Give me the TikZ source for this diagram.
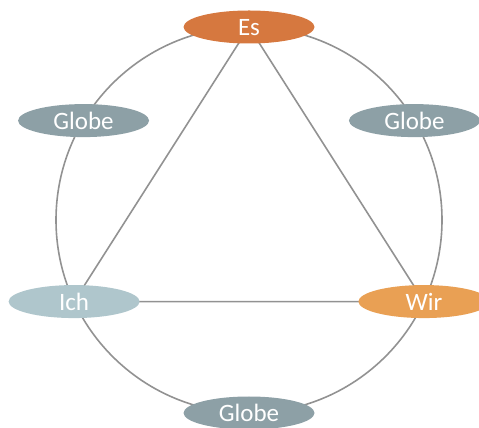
\documentclass[tikz,border=0pt]{standalone}
\usepackage{fontspec}
\setmainfont{Carlito}
\usetikzlibrary{shapes.geometric,calc}
\definecolor{esfill}{HTML}{D6783F}
\definecolor{wirfill}{HTML}{E9A054}
\definecolor{globefill}{HTML}{8DA0A6}
\definecolor{ichfill}{HTML}{AFC6CC}
\definecolor{linegray}{HTML}{929292}
\tikzset{
  blob/.style={ellipse, draw=none, inner sep=0pt, minimum width=131pt,
    minimum height=33pt, text=white, text height=17pt, text depth=0pt,
    font=\fontsize{25}{30}\selectfont},
  ring/.style={draw=linegray, line width=1.6pt},
  edge/.style={draw=linegray, line width=1.6pt}
}
\begin{document}
\begin{tikzpicture}[x=1pt,y=1pt]
  \useasboundingbox (0,0) rectangle (479,428);
  \coordinate (c) at (249,208);
  % outer ring
  \draw[ring] (c) circle (193);
  % node positions on the ring
  \coordinate (pEs) at ($(c)+(90:193)$);
  \coordinate (pGr) at ($(c)+(31:193)$);
  \coordinate (pWir) at ($(c)+(-25:193)$);
  \coordinate (pGb) at ($(c)+(-90:193)$);
  \coordinate (pIch) at ($(c)+(205:193)$);
  \coordinate (pGl) at ($(c)+(149:193)$);
  % inner triangle
  \draw[edge] (pEs) -- (pIch) -- (pWir) -- cycle;
  % labelled ellipses
  \node[blob, fill=esfill] (es) at (pEs) {Es};
  \node[blob, fill=globefill] (globeR) at (pGr) {Globe};
  \node[blob, fill=wirfill] (wir) at (pWir) {Wir};
  \node[blob, fill=globefill] (globeB) at (pGb) {Globe};
  \node[blob, fill=ichfill] (ich) at (pIch) {Ich};
  \node[blob, fill=globefill] (globeL) at (pGl) {Globe};
\end{tikzpicture}
\end{document}
